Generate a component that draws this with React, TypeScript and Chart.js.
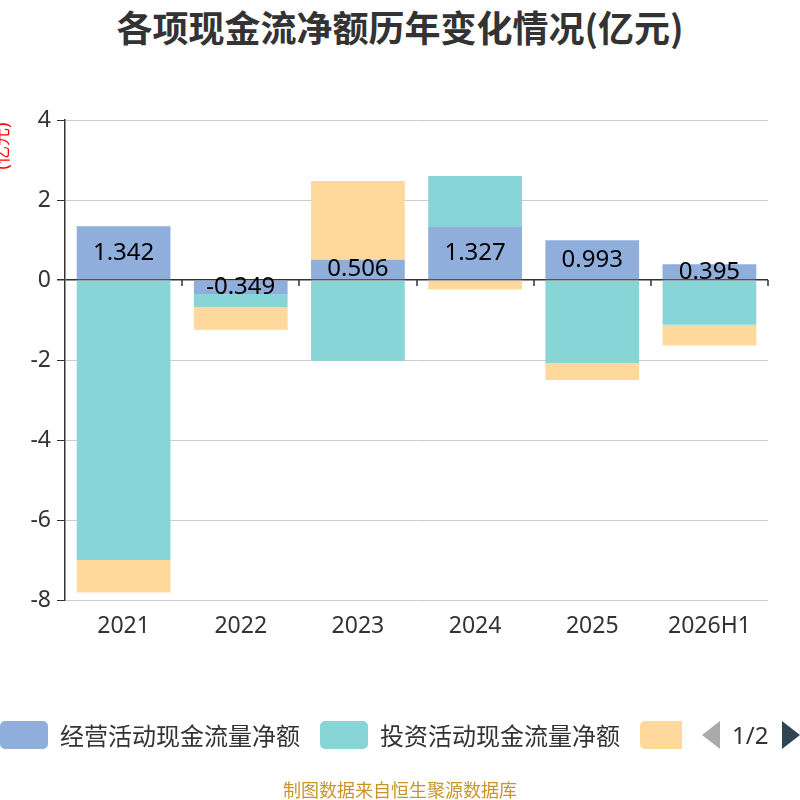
import React, { useEffect, useRef } from 'react'
import { Chart, registerables } from 'chart.js'

Chart.register(...registerables)

const categories = ['2021', '2022', '2023', '2024', '2025', '2026H1']
const operating = [1.342, -0.349, 0.506, 1.327, 0.993, 0.395]
const investing = [-7.0, -0.335, -2.02, 1.27, -2.08, -1.12]
const financing = [-0.81, -0.56, 1.97, -0.24, -0.42, -0.52]
const seriesNames = ['经营活动现金流量净额', '投资活动现金流量净额', '筹资活动现金流量净额']
const seriesColors = ['#8FAEDB', '#88D5D8', '#FFD99B']

const FONT = '"Noto Sans", "Noto Sans CJK SC", sans-serif'
const CJK = '"Noto Sans CJK SC", sans-serif'

const extras = {
  id: 'extras',
  beforeDatasetsDraw(chart) {
    // tick marks under the zero line, between categories
    const { ctx, chartArea, scales } = chart
    const y0 = scales.y.getPixelForValue(0)
    const step = (chartArea.right - chartArea.left) / categories.length
    ctx.save()
    ctx.strokeStyle = '#333'
    ctx.lineWidth = 1.5
    for (let i = 1; i <= categories.length; i++) {
      const x = Math.round(chartArea.left + i * step)
      ctx.beginPath()
      ctx.moveTo(x, y0)
      ctx.lineTo(x, y0 + 6)
      ctx.stroke()
    }
    ctx.restore()
  },
  afterDatasetsDraw(chart) {
    const { ctx } = chart
    const meta = chart.getDatasetMeta(0)
    ctx.save()
    ctx.font = `24px ${FONT}`
    ctx.fillStyle = '#000'
    ctx.textAlign = 'center'
    ctx.textBaseline = 'middle'
    meta.data.forEach((el, i) => {
      const p = el.getProps(['x', 'y', 'base'], true)
      ctx.fillText(String(operating[i]), p.x, (p.y + p.base) / 2)
    })
    // y axis unit
    ctx.translate(3, 146)
    ctx.rotate(-Math.PI / 2)
    ctx.font = `18px ${FONT}`
    ctx.fillStyle = '#ff0000'
    ctx.fillText('(亿元)', 0, 0)
    ctx.restore()
  },
}

const App = () => {
  const chartRef = useRef(null)
  const chartInstanceRef = useRef(null)

  useEffect(() => {
    document.body.style.margin = '0'
    const ctx = chartRef.current.getContext('2d')

    chartInstanceRef.current = new Chart(ctx, {
      type: 'bar',
      data: {
        labels: categories,
        datasets: [operating, investing, financing].map((d, i) => ({
          label: seriesNames[i],
          data: d,
          backgroundColor: seriesColors[i],
          borderWidth: 0,
          barPercentage: 0.8,
          categoryPercentage: 1,
        })),
      },
      options: {
        responsive: false,
        animation: false,
        layout: { padding: { left: 0, right: 32, top: 120, bottom: 160 } },
        plugins: {
          legend: { display: false },
          title: { display: false },
          tooltip: { enabled: false },
        },
        scales: {
          x: {
            stacked: true,
            grid: { display: false, drawTicks: false },
            border: { display: false },
            ticks: { color: '#333', font: { size: 23, family: FONT }, padding: 13 },
            afterFit: (scale) => {
              scale.height = 40
            },
          },
          y: {
            stacked: true,
            min: -8,
            max: 4,
            ticks: { stepSize: 2, color: '#333', font: { size: 23, family: FONT }, padding: 6 },
            grid: {
              color: (c) => (c.tick && c.tick.value === 0 ? '#333' : '#ccc'),
              lineWidth: (c) => (c.tick && c.tick.value === 0 ? 1.5 : 1),
              tickColor: '#333',
              tickLength: 8,
            },
            border: { color: '#333', width: 1.5 },
            afterFit: (scale) => {
              scale.width = 65
            },
          },
        },
      },
      plugins: [extras],
    })

    return () => {
      chartInstanceRef.current.destroy()
    }
  }, [])

  const legendText = { fontSize: 24, color: '#333', whiteSpace: 'nowrap', lineHeight: '28px' }
  const swatch = (c, w = 48) => ({ width: w, height: 28, background: c, borderRadius: 5 })

  return (
    <div style={{ position: 'fixed', left: 0, top: 0, width: 800, height: 800, background: '#fff', fontFamily: FONT, overflow: 'hidden' }}>
      <div style={{ position: 'absolute', top: 6, left: 0, width: 800, textAlign: 'center', fontSize: 36, lineHeight: '40px', fontWeight: 'bold', color: '#333', fontFamily: CJK }}>
        各项现金流净额历年变化情况(亿元)
      </div>
      <canvas ref={chartRef} width={800} height={800} style={{ position: 'absolute', left: 0, top: 0 }}></canvas>
      <div style={{ position: 'absolute', top: 721, left: 0, height: 28 }}>
        <div style={{ position: 'absolute', left: 0, ...swatch(seriesColors[0]) }} />
        <div style={{ position: 'absolute', left: 60, top: 0, ...legendText, fontFamily: CJK }}>{seriesNames[0]}</div>
        <div style={{ position: 'absolute', left: 320, ...swatch(seriesColors[1]) }} />
        <div style={{ position: 'absolute', left: 380, top: 0, ...legendText, fontFamily: CJK }}>{seriesNames[1]}</div>
        <div style={{ position: 'absolute', left: 640, width: 42, height: 28, overflow: 'hidden' }}>
          <div style={swatch(seriesColors[2])} />
        </div>
        <svg style={{ position: 'absolute', left: 700, top: 0 }} width={22} height={28}>
          <polygon points="20,0 20,28 2,14" fill="#aaa" />
        </svg>
        <div style={{ position: 'absolute', left: 732, top: 0, ...legendText }}>1/2</div>
        <svg style={{ position: 'absolute', left: 780, top: 0 }} width={22} height={28}>
          <polygon points="2,0 2,28 20,14" fill="#2f4554" />
        </svg>
      </div>
      <div style={{ position: 'absolute', top: 777, left: 0, width: 800, textAlign: 'center', fontSize: 18, lineHeight: '24px', color: '#c8952a', fontFamily: CJK }}>
        制图数据来自恒生聚源数据库
      </div>
    </div>
  )
}

export default App
